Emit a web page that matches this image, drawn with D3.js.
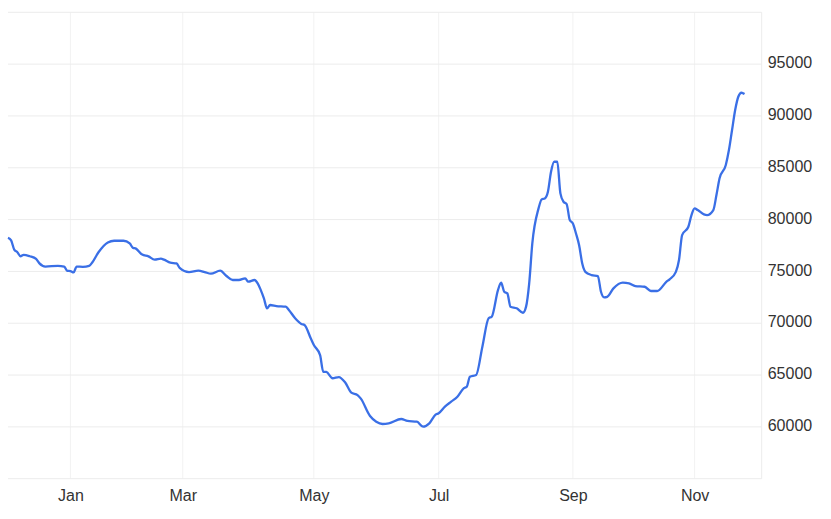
<!DOCTYPE html>
<html>
<head>
<meta charset="utf-8">
<script src="https://cdn.jsdelivr.net/npm/d3@7"></script>
<style>
  html, body { margin: 0; padding: 0; background: #fff; }
  #wrapper { width: 831px; height: 519px; }
  text { font-family: "Liberation Sans", Arial, sans-serif; }
</style>
</head>
<body>
<div id="wrapper"></div>
<script>
// trading session number (0 = first session shown) and the price read at it
const sessions = [
  0, 1, 2, 3, 4, 5, 7, 9, 10, 12, 16, 18, 19, 20, 21, 22, 24, 26, 27, 29,
  32, 34, 37, 39, 40, 41, 43, 45, 47, 49, 50, 52, 54, 55, 58, 61, 63, 65, 68, 70,
  72, 74, 76, 77, 79, 80, 81, 82, 83, 84, 86, 89, 90, 92, 94, 95, 97, 98, 100, 101,
  102, 104, 106, 108, 110, 112, 113, 116, 118, 120, 122, 126, 128, 131, 133, 135, 137, 138, 140, 142,
  144, 146, 147, 148, 150, 152, 154, 155, 157, 158, 159, 160, 161, 163, 165, 166, 167, 168, 170, 171,
  172, 173, 174, 175, 176, 177, 178, 179, 180, 181, 182, 183, 184, 185, 187, 189, 190, 191, 192, 194,
  197, 199, 201, 204, 206, 208, 211, 212, 214, 215, 216, 218, 219, 220, 221, 223, 224, 226, 227, 228,
  230, 231, 232, 233, 234, 235, 236
]
const prices = [
  78250, 78000, 77100, 76850, 76460, 76600, 76460, 76200, 75800, 75470, 75540, 75470, 75060, 75030, 74900, 75470, 75440, 75540, 75860, 76850,
  77800, 77960, 77960, 77700, 77290, 77200, 76620, 76450, 76130, 76230, 76130, 75840, 75770, 75340, 74940, 75070, 74940, 74780, 75070, 74560,
  74170, 74170, 74330, 74010, 74170, 73850, 73200, 72400, 71440, 71760, 71660, 71600, 71280, 70480, 69930, 69830, 68550, 67900, 66930, 65320,
  65300, 64690, 64800, 64300, 63300, 63070, 62750, 61050, 60500, 60280, 60340, 60760, 60570, 60500, 60020, 60340, 61180, 61310, 61950, 62430,
  62910, 63720, 63880, 64840, 65010, 67740, 70480, 70630, 73200, 73910, 73040, 72880, 71600, 71440, 71010, 71600, 73850, 77700, 81080, 81950,
  82040, 82690, 84620, 85580, 85580, 82530, 81720, 81500, 79950, 79630, 78660, 77530, 75760, 74960, 74650, 74550, 73040, 72500, 72550, 73360,
  73910, 73850, 73590, 73520, 73110, 73110, 74010, 74240, 74960, 76100, 78510, 79310, 80440, 81080, 80920, 80500, 80440, 80920, 82370, 83980,
  85270, 86710, 88640, 90570, 91850, 92240, 92110
]

const monthLabels = ["Jan", "Mar", "May", "Jul", "Sep", "Nov"]
const monthSessions = [20, 56, 98, 138, 181, 220]

const gridValues = [55000, 60000, 65000, 70000, 75000, 80000, 85000, 90000, 95000, 100000]
const yTickValues = [60000, 65000, 70000, 75000, 80000, 85000, 90000, 95000]

function drawLineChart() {
  const dataset = sessions.map((s, i) => ({ session: s, price: prices[i] }))
  const xAccessor = d => d.session
  const yAccessor = d => d.price

  let dimensions = {
    width: 831,
    height: 519,
    margins: { top: 12.3, right: 69.3, bottom: 40.3, left: 8 }
  }
  dimensions.boundedWidth = dimensions.width - dimensions.margins.left - dimensions.margins.right
  dimensions.boundedHeight = dimensions.height - dimensions.margins.top - dimensions.margins.bottom

  const wrapper = d3.select("#wrapper")
    .append("svg")
    .attr("width", dimensions.width)
    .attr("height", dimensions.height)

  const bounds = wrapper.append("g")
    .attr("transform", `translate(${dimensions.margins.left},${dimensions.margins.top})`)

  // scales
  const xScale = d3.scaleLinear()
    .domain([0, 241.5])
    .range([0, dimensions.boundedWidth])

  const yScale = d3.scaleLinear()
    .domain([55000, 100000])
    .range([dimensions.boundedHeight, 0])

  // grid
  bounds.append("g")
    .selectAll("line")
    .data(monthSessions)
    .join("line")
      .attr("x1", d => xScale(d))
      .attr("x2", d => xScale(d))
      .attr("y1", 0)
      .attr("y2", dimensions.boundedHeight)
      .attr("stroke", "#f2f2f2")
      .attr("stroke-width", 1)

  bounds.append("g")
    .selectAll("line")
    .data(gridValues)
    .join("line")
      .attr("x1", 0)
      .attr("x2", dimensions.boundedWidth)
      .attr("y1", d => yScale(d))
      .attr("y2", d => yScale(d))
      .attr("stroke", "#ececec")
      .attr("stroke-width", 1)

  // right edge of the plot
  bounds.append("line")
    .attr("x1", dimensions.boundedWidth)
    .attr("x2", dimensions.boundedWidth)
    .attr("y1", 0)
    .attr("y2", dimensions.boundedHeight)
    .attr("stroke", "#ececec")

  // line
  const lineGenerator = d3.line()
    .x(d => xScale(xAccessor(d)))
    .y(d => yScale(yAccessor(d)))
    .curve(d3.curveMonotoneX)

  bounds.append("path")
    .datum(dataset)
    .attr("d", lineGenerator)
    .attr("fill", "none")
    .attr("stroke", "#3a6fe6")
    .attr("stroke-width", 2.3)
    .attr("stroke-linejoin", "round")

  // axes
  const xAxis = bounds.append("g")
    .attr("transform", `translate(0,${dimensions.boundedHeight})`)
    .call(d3.axisBottom(xScale)
      .tickValues(monthSessions)
      .tickFormat((d, i) => monthLabels[i])
      .tickSize(0)
      .tickPadding(10.6))
  xAxis.select(".domain").remove()
  xAxis.selectAll("text")
    .attr("font-size", "16px")
    .attr("fill", "#333")
    .style("font-family", "'Liberation Sans', Arial, sans-serif")

  const yAxis = bounds.append("g")
    .attr("transform", `translate(${dimensions.boundedWidth},0)`)
    .call(d3.axisRight(yScale)
      .tickValues(yTickValues)
      .tickFormat(d3.format("d"))
      .tickSize(0)
      .tickPadding(6))
  yAxis.select(".domain").remove()
  yAxis.selectAll("text")
    .attr("dy", "0.225em")
    .attr("font-size", "16px")
    .attr("fill", "#333")
    .style("font-family", "'Liberation Sans', Arial, sans-serif")
}

drawLineChart()
</script>
</body>
</html>
